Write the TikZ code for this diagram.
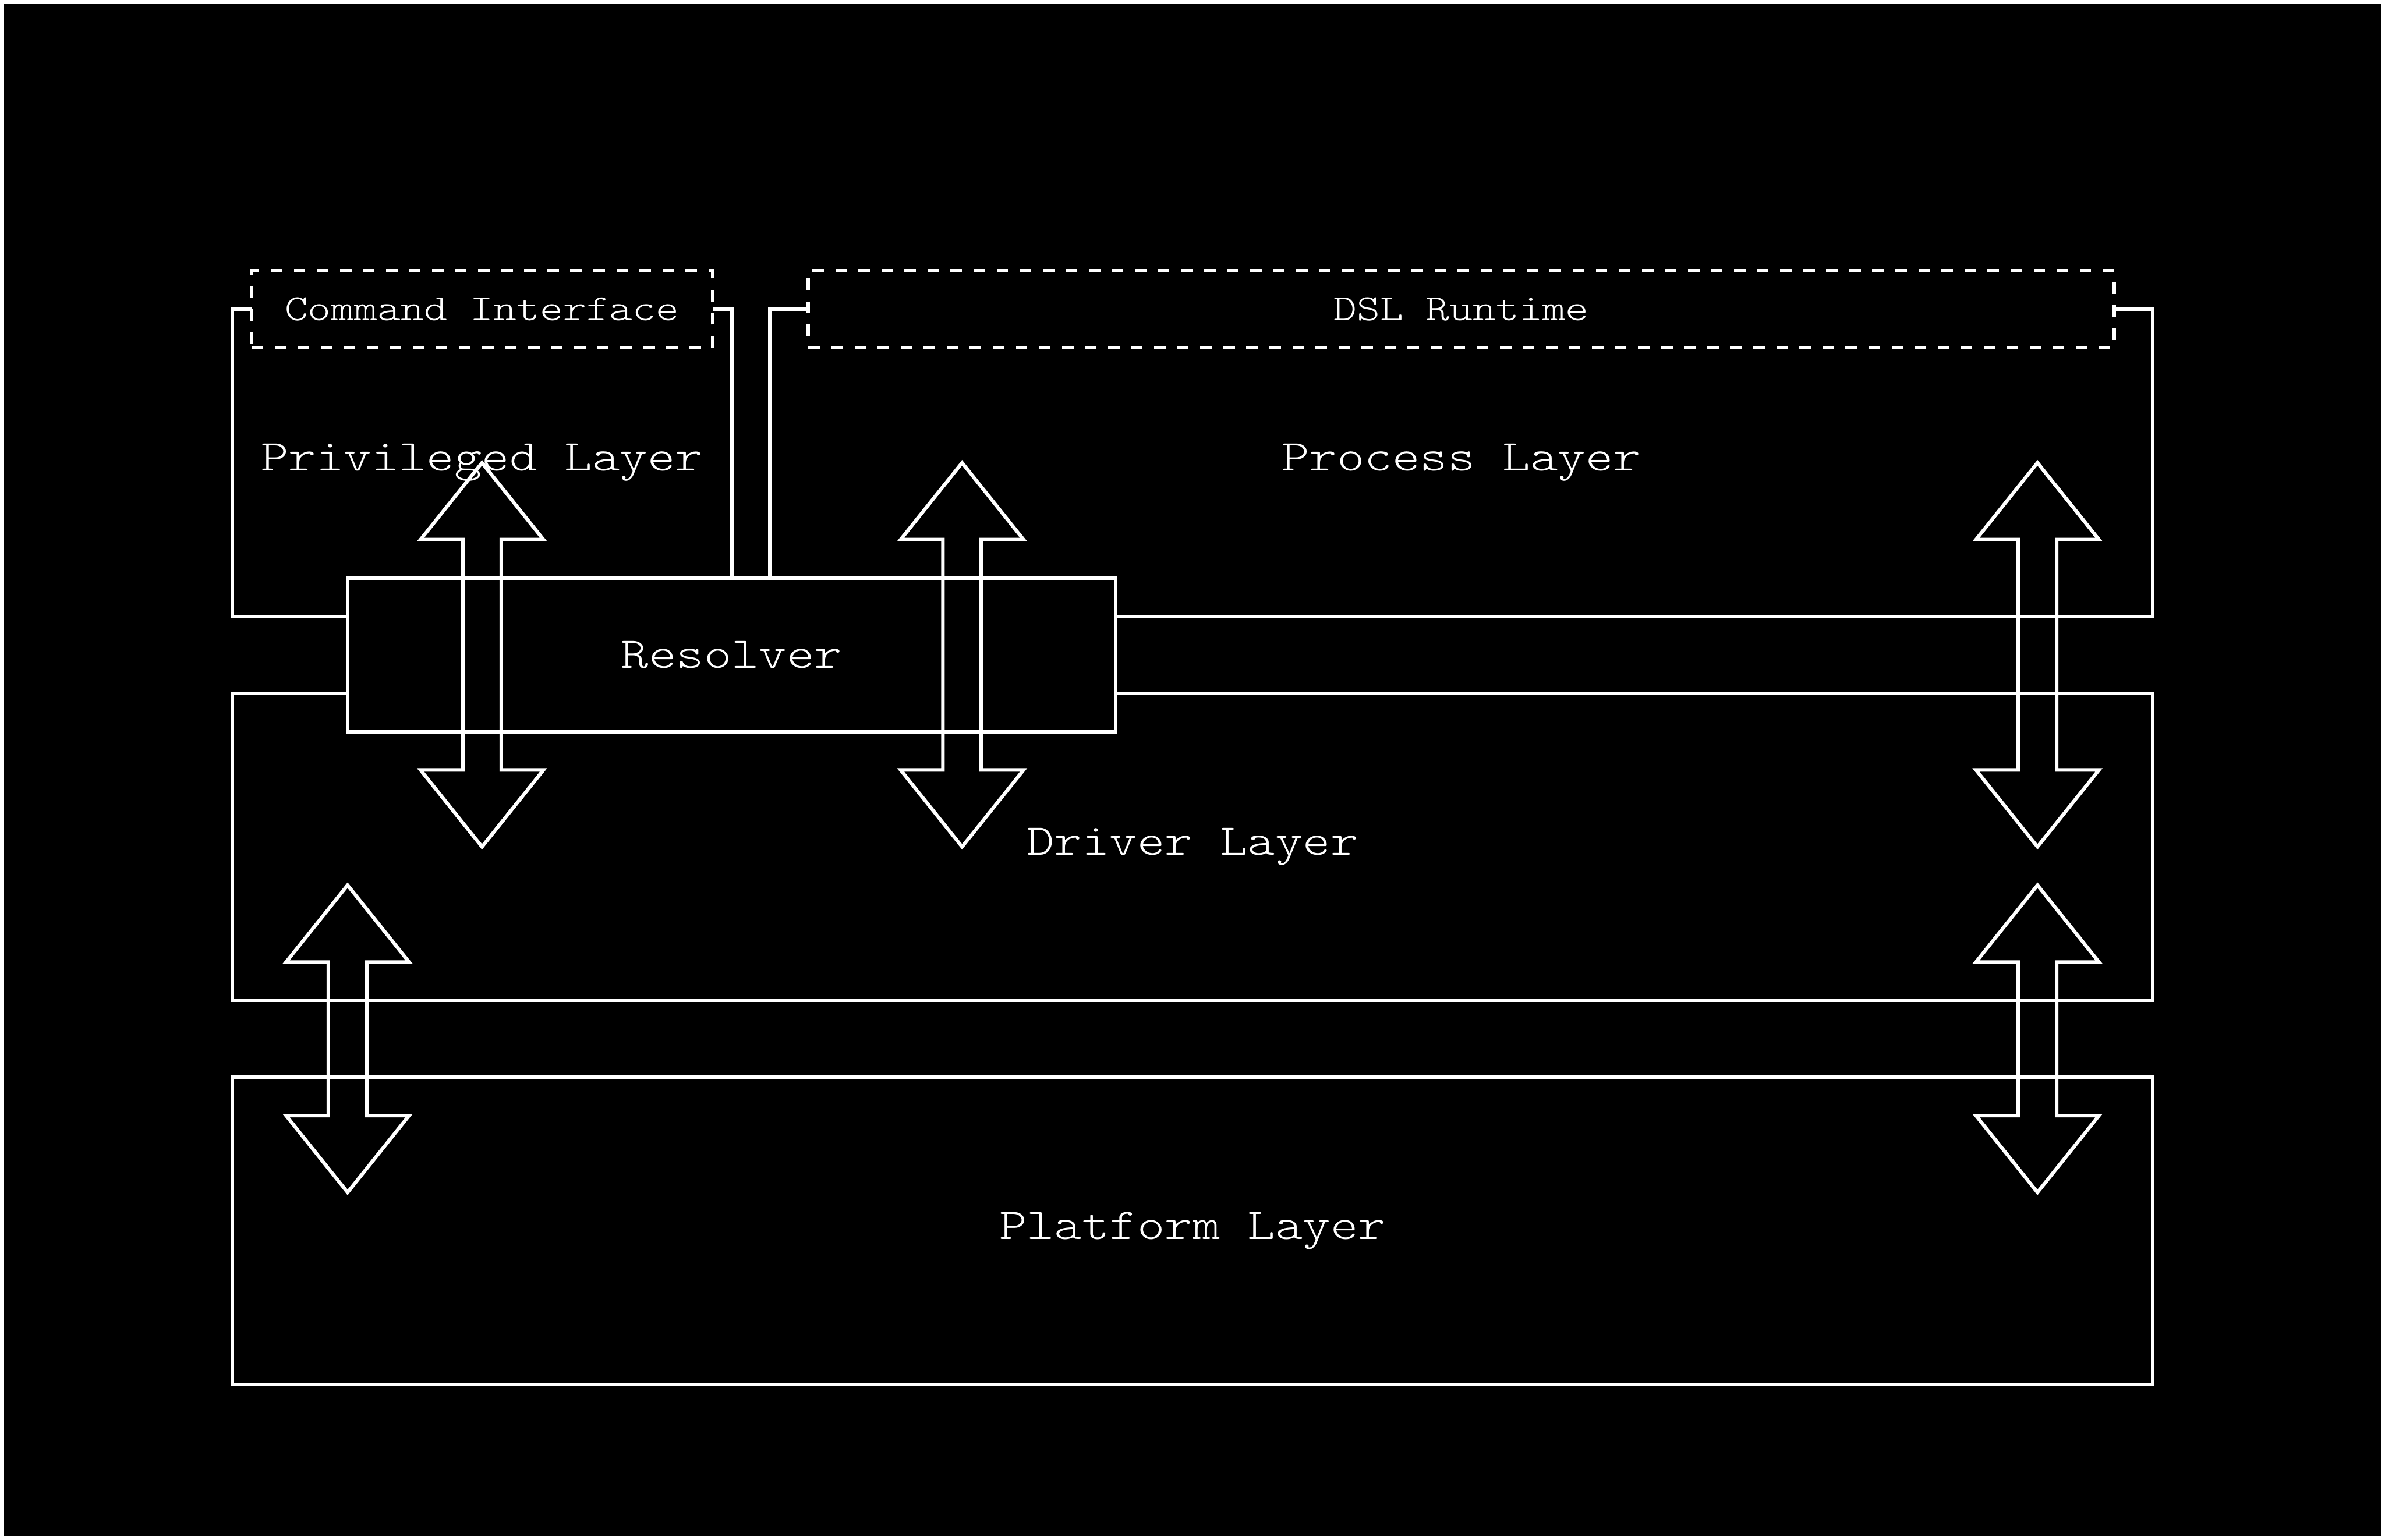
\documentclass[tikz,border=0pt]{standalone}
\usepackage{fontspec}
\setmainfont{Latin Modern Mono Light}[FakeStretch=1.195]
\begin{document}
\begin{tikzpicture}[x=1cm,y=-1cm,line width=2.6pt,
	layer/.style={draw=white,text=white,inner sep=0pt,font=\fontsize{32.6}{38}\selectfont},
	dashbox/.style={draw=white,fill=black,text=white,inner sep=0pt,dash pattern=on 0.3cm off 0.3cm,font=\fontsize{27.4}{33}\selectfont},
	corebox/.style={draw=white,fill=black,text=white,inner sep=0pt,font=\fontsize{32.6}{38}\selectfont},
	dblarrow/.style={draw=white}]
			\fill[white] (0,0) rectangle (62.1,40.1);
			\fill[black] (0.1,0.1) rectangle (62,40);
			\node[layer,minimum width=13cm,minimum height=8cm] (priv) at (12.55,12.05) {Privileged Layer};
			\node[layer,minimum width=36cm,minimum height=8cm] (proc) at (38.05,12.05) {Process Layer};
			\node[layer,minimum width=50cm,minimum height=8cm] (drv) at (31.05,22.05) {Driver Layer};
			\node[layer,minimum width=50cm,minimum height=8cm] (plat) at (31.05,32.05) {Platform Layer};
			\node[dashbox,minimum width=12cm,minimum height=2cm] (cmd) at (12.55,8.05) {Command Interface};
			\node[dashbox,minimum width=34cm,minimum height=2cm] (dsl) at (38.05,8.05) {DSL Runtime};
			\node[corebox,minimum width=20cm,minimum height=4cm] (res) at (19.05,17.05) {Resolver};
			\foreach \x/\ya/\yb in {12.55/12.05/22.05,25.05/12.05/22.05,53.05/12.05/22.05,9.05/23.05/31.05,53.05/23.05/31.05}
			\draw[dblarrow] (\x,\ya) -- (\x+1.6,\ya+2) -- (\x+0.5,\ya+2) -- (\x+0.5,\yb-2) -- (\x+1.6,\yb-2)
				-- (\x,\yb) -- (\x-1.6,\yb-2) -- (\x-0.5,\yb-2) -- (\x-0.5,\ya+2) -- (\x-1.6,\ya+2) -- cycle;
\end{tikzpicture}
\end{document}
